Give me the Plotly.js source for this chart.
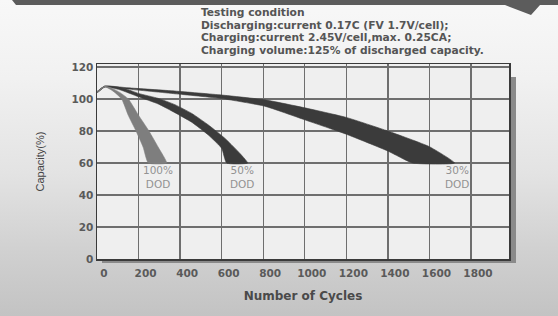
<!DOCTYPE html>
<html>
<head>
<meta charset="utf-8">
<script src="https://cdn.plot.ly/plotly-3.0.1.min.js"></script>
<style>
  html, body { margin: 0; padding: 0; }
  body { width: 558px; height: 316px; overflow: hidden;
    background: linear-gradient(to bottom, #f8f8f8 0%, #f1f1f1 25%, #e3e3e3 55%, #d0d0d0 80%, #c3c3c3 100%); }
  #chart { width: 558px; height: 316px; }
</style>
</head>
<body>
<div id="chart"></div>
<script>
// ---- data (cycles vs capacity %) ----
const dod100UpperX = [0, 38, 75, 111, 151, 199, 250, 294, 335];
const dod100UpperY = [104.6, 108.1, 106.5, 104, 100, 90, 80, 70, 60];
const dod100LowerX = [0, 38, 65, 87, 119, 150, 188, 222, 247];
const dod100LowerY = [103.8, 107.6, 106, 104, 100, 90, 80, 70, 60];

const dod50UpperX = [0, 38, 135, 200, 295, 375, 456, 536, 616, 680, 725];
const dod50UpperY = [104.6, 108.1, 106.5, 103.5, 100.4, 96.5, 91, 83.8, 75.4, 67.1, 60];
const dod50LowerX = [0, 38, 110, 200, 295, 375, 456, 536, 600, 624];
const dod50LowerY = [103.8, 107.6, 105.8, 101.4, 96.9, 91.5, 85.5, 77.5, 69.2, 60];

const dod30UpperX = [0, 38, 150, 375, 600, 808, 1000, 1200, 1400, 1600, 1721];
const dod30UpperY = [104.6, 108.1, 107, 105, 102.5, 99.5, 94.5, 88.5, 80, 70.2, 60];
const dod30LowerX = [0, 38, 150, 375, 600, 808, 1000, 1200, 1400, 1519];
const dod30LowerY = [103.8, 107.6, 106.2, 103.3, 100.3, 95.5, 87, 78, 67.5, 60];

const labelText = ["100%<br>DOD", "50%<br>DOD", "30%<br>DOD"];
const labelX = [293, 697, 1731];
const labelY = [51, 51, 51];

const xTicks = [0, 200, 400, 600, 800, 1000, 1200, 1400, 1600, 1800];
const yTicks = [0, 20, 40, 60, 80, 100, 120];

const conditionLines = [
  "Testing condition",
  "Discharging:current 0.17C (FV 1.7V/cell);",
  "Charging:current 2.45V/cell,max. 0.25CA;",
  "Charging volume:125% of discharged capacity."
];

// ---- helpers ----
function band(ux, uy, lx, ly, color) {
  return {
    type: 'scatter', mode: 'lines',
    x: ux.concat(lx.slice().reverse()),
    y: uy.concat(ly.slice().reverse()),
    fill: 'toself', fillcolor: color,
    line: { color: color, width: 0.6, shape: 'spline', smoothing: 0.45 },
    hoverinfo: 'skip', showlegend: false
  };
}

const L = 97, R = 509, T = 64, B = 259, W = 558, H = 316;
const px = x => (x - L) / (R - L);
const py = y => (B - y) / (B - T);

const traces = [
  band(dod30UpperX, dod30UpperY, dod30LowerX, dod30LowerY, '#3b3b3b'),
  band(dod50UpperX, dod50UpperY, dod50LowerX, dod50LowerY, '#3b3b3b'),
  band(dod100UpperX, dod100UpperY, dod100LowerX, dod100LowerY, '#7e7e7e')
];

const annotations = labelText.map((t, i) => ({
  x: labelX[i], y: labelY[i], xref: 'x', yref: 'y', text: t, showarrow: false,
  font: { family: 'DejaVu Sans', size: 10.5, color: '#929292' }, align: 'center'
}));

// one text block; base size sets the line spacing (1.3 x base)
annotations.push({
  x: px(199), y: py(32), xref: 'paper', yref: 'paper',
  xanchor: 'left', yanchor: 'middle', align: 'left', showarrow: false,
  text: conditionLines.map(t => '<span style="font-size:10.7px">' + t + '</span>').join('<br>'),
  font: { family: 'DejaVu Sans', size: 9.8, weight: 'bold', color: '#555555' }
});

const shapes = [
  // top banner
  { type: 'path', xref: 'paper', yref: 'paper', layer: 'above',
    path: `M ${px(12)},${py(0)} L ${px(558)},${py(0)} L ${px(558)},${py(5)} L ${px(540)},${py(5)} L ${px(531)},${py(15)} L ${px(505)},${py(5)} L ${px(16)},${py(5)} Z`,
    fillcolor: '#5c5c5c', line: { width: 0 } },
  // plot shadow right
  { type: 'rect', xref: 'paper', yref: 'paper', layer: 'below',
    x0: px(510), x1: px(516), y0: py(263), y1: py(77),
    fillcolor: '#8a8a8a', line: { width: 0 } },
  // plot shadow bottom
  { type: 'rect', xref: 'paper', yref: 'paper', layer: 'below',
    x0: px(102), x1: px(516), y0: py(263), y1: py(260),
    fillcolor: '#8a8a8a', line: { width: 0 } }
];

const layout = {
  width: W, height: H,
  margin: { l: L, r: W - R, t: T, b: H - B, pad: 0 },
  paper_bgcolor: 'rgba(0,0,0,0)',
  plot_bgcolor: '#efefef',
  showlegend: false,
  xaxis: {
    range: [0, 1983], tickvals: xTicks, ticks: '', showgrid: true,
    gridcolor: '#6e6e6e', gridwidth: 1.4, zeroline: false,
    showline: true, mirror: true, linecolor: '#3a3a3a', linewidth: 1.5,
    ticklabelshift: 7, ticklabelstandoff: 4,
    tickfont: { family: 'DejaVu Sans', size: 10.5, weight: 'bold', color: '#5a5a5a' },
    title: { text: 'Number of Cycles', standoff: 13,
      font: { family: 'DejaVu Sans', size: 12, weight: 'bold', color: '#4a4a4a' } }
  },
  yaxis: {
    range: [0, 121.9], tickvals: yTicks, ticks: '', showgrid: true,
    gridcolor: '#6e6e6e', gridwidth: 1.4, zeroline: false,
    showline: true, mirror: true, linecolor: '#3a3a3a', linewidth: 1.5,
    tickfont: { family: 'DejaVu Sans', size: 10.5, weight: 'bold', color: '#5a5a5a' },
    title: { text: 'Capacity(%)', standoff: 24,
      font: { family: 'Liberation Sans', size: 11, color: '#444444' } }
  },
  annotations: annotations,
  shapes: shapes
};

Plotly.newPlot('chart', traces, layout, { displayModeBar: false, staticPlot: true });
</script>
</body>
</html>
